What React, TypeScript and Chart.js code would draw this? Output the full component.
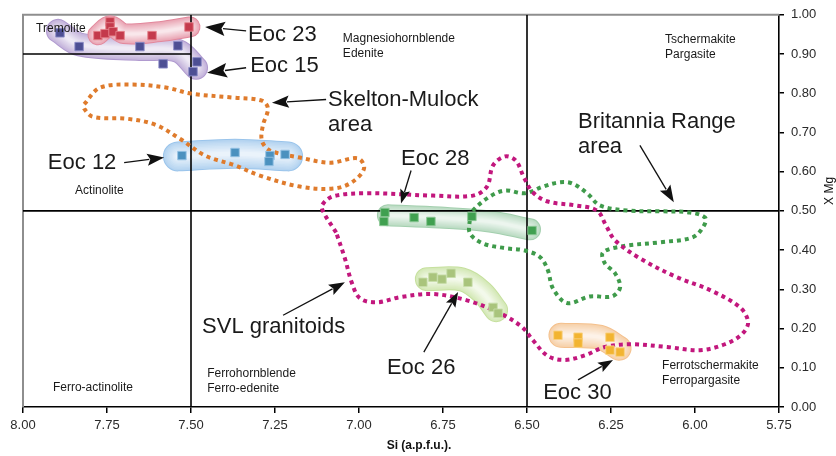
import { useEffect, useRef } from 'react';
import { Chart, registerables } from 'chart.js';

Chart.register(...registerables);

type Pt = { x: number; y: number };
const P = (rows: number[][]): Pt[] => rows.map(([x, y]) => ({ x, y }));

// ---- axes ----
const xTickValues = [8.0, 7.75, 7.5, 7.25, 7.0, 6.75, 6.5, 6.25, 6.0, 5.75];
const yTickValues = [0, 0.1, 0.2, 0.3, 0.4, 0.5, 0.6, 0.7, 0.8, 0.9, 1.0];
const xTitle = 'Si (a.p.f.u.).';
const yTitle = 'X Mg';

// ---- sample analyses (Si, X Mg) ----
const eoc23 = P([[7.741, 0.982], [7.741, 0.969], [7.777, 0.947], [7.756, 0.952], [7.732, 0.957], [7.711, 0.947], [7.616, 0.947], [7.506, 0.969]]);
const eoc15 = P([[7.890, 0.954], [7.833, 0.919], [7.652, 0.919], [7.539, 0.921], [7.583, 0.875], [7.482, 0.880], [7.494, 0.855]]);
const eoc12 = P([[7.527, 0.641], [7.369, 0.649], [7.265, 0.641], [7.268, 0.626], [7.220, 0.644]]);
const eoc28 = P([[6.923, 0.496], [6.926, 0.473], [6.836, 0.483], [6.786, 0.473], [6.664, 0.486], [6.485, 0.450]]);
const eoc26 = P([[6.810, 0.318], [6.780, 0.331], [6.753, 0.326], [6.726, 0.341], [6.676, 0.318], [6.601, 0.254], [6.586, 0.239]]);
const eoc30 = P([[6.408, 0.183], [6.348, 0.178], [6.348, 0.163], [6.253, 0.178], [6.253, 0.145], [6.223, 0.140]]);

// ---- sample envelopes (centre lines of shaded fields) ----
const eoc23Env = P([[7.777, 0.949], [7.741, 0.972], [7.699, 0.952], [7.592, 0.957], [7.503, 0.969]]);
const eoc15Env = P([[7.896, 0.959], [7.830, 0.924], [7.652, 0.913], [7.539, 0.908], [7.485, 0.865]]);
const eoc12Env = P([[7.539, 0.639], [7.369, 0.646], [7.211, 0.639]]);
const eoc28Env = P([[6.914, 0.489], [6.759, 0.483], [6.610, 0.473], [6.491, 0.453]]);
const eoc26Env = P([[6.798, 0.326], [6.693, 0.325], [6.634, 0.293], [6.592, 0.247]]);
const eoc30Env = P([[6.399, 0.183], [6.283, 0.178], [6.226, 0.150]]);

// ---- regional fields (dotted outlines) ----
const skeltonMulock = P([
  [7.818, 0.772], [7.771, 0.814], [7.673, 0.822], [7.571, 0.814], [7.500, 0.799], [7.375, 0.789],
  [7.289, 0.781], [7.271, 0.761], [7.286, 0.718], [7.289, 0.679], [7.265, 0.654], [7.176, 0.636],
  [7.086, 0.623], [7.003, 0.634], [6.985, 0.608], [7.021, 0.573], [7.077, 0.557], [7.176, 0.562],
  [7.295, 0.590], [7.369, 0.616], [7.458, 0.641], [7.533, 0.684], [7.607, 0.720], [7.690, 0.735],
  [7.792, 0.740], [7.818, 0.761], [7.818, 0.772],
]);
const svlGranitoids = P([
  [7.068, 0.445], [7.104, 0.494], [7.110, 0.514], [7.077, 0.537], [6.976, 0.545], [6.780, 0.539],
  [6.661, 0.539], [6.619, 0.562], [6.601, 0.616], [6.565, 0.639], [6.533, 0.628], [6.509, 0.585],
  [6.482, 0.547], [6.438, 0.524], [6.357, 0.514], [6.292, 0.501], [6.265, 0.463], [6.238, 0.425],
  [6.164, 0.379], [6.054, 0.331], [5.955, 0.298], [5.866, 0.254], [5.842, 0.216], [5.860, 0.186],
  [5.911, 0.160], [5.985, 0.145], [6.083, 0.153], [6.193, 0.160], [6.268, 0.153], [6.327, 0.132],
  [6.387, 0.120], [6.438, 0.130], [6.482, 0.170], [6.515, 0.204], [6.580, 0.239], [6.679, 0.272],
  [6.780, 0.288], [6.878, 0.280], [6.946, 0.267], [6.997, 0.277], [7.021, 0.316], [7.042, 0.379],
  [7.068, 0.445],
]);
const britanniaRange = P([
  [6.670, 0.481], [6.661, 0.501], [6.610, 0.537], [6.565, 0.552], [6.506, 0.545], [6.452, 0.562],
  [6.402, 0.573], [6.366, 0.570], [6.321, 0.545], [6.283, 0.514], [6.202, 0.501], [6.104, 0.499],
  [6.015, 0.496], [5.970, 0.483], [5.973, 0.463], [6.006, 0.433], [6.104, 0.420], [6.214, 0.410],
  [6.274, 0.394], [6.268, 0.366], [6.238, 0.341], [6.223, 0.305], [6.247, 0.282], [6.313, 0.282],
  [6.381, 0.265], [6.423, 0.303], [6.438, 0.349], [6.461, 0.382], [6.506, 0.399], [6.565, 0.405],
  [6.631, 0.417], [6.670, 0.443], [6.670, 0.481],
]);

// ---- classification boundaries ----
const boundaries = [
  P([[7.5, 0], [7.5, 1]]),
  P([[6.5, 0], [6.5, 1]]),
  P([[8.0, 0.5], [5.75, 0.5]]),
  P([[8.0, 0.9], [7.5, 0.9]]),
];

// ---- text ----
const fieldLabels = [
  { lines: ['Tremolite'], x: 7.961, y: 0.957 },
  { lines: ['Magnesiohornblende', 'Edenite'], x: 7.048, y: 0.931 },
  { lines: ['Tschermakite', 'Pargasite'], x: 6.089, y: 0.929 },
  { lines: ['Actinolite'], x: 7.845, y: 0.542 },
  { lines: ['Ferro-actinolite'], x: 7.911, y: 0.041 },
  { lines: ['Ferrohornblende', 'Ferro-edenite'], x: 7.452, y: 0.076 },
  { lines: ['Ferrotschermakite', 'Ferropargasite'], x: 6.098, y: 0.097 },
];
const sampleLabels = [
  { lines: ['Eoc 23'], x: 7.330, y: 0.934 },
  { lines: ['Eoc 15'], x: 7.324, y: 0.855 },
  { lines: ['Skelton-Mulock', 'area'], x: 7.092, y: 0.768 },
  { lines: ['Eoc 12'], x: 7.926, y: 0.606 },
  { lines: ['Eoc 28'], x: 6.875, y: 0.618 },
  { lines: ['Britannia Range', 'area'], x: 6.348, y: 0.712 },
  { lines: ['SVL granitoids'], x: 7.467, y: 0.188 },
  { lines: ['Eoc 26'], x: 6.917, y: 0.084 },
  { lines: ['Eoc 30'], x: 6.452, y: 0.020 },
];
const arrows = [
  { from: [7.336, 0.959], to: [7.458, 0.969], head: 20 },
  { from: [7.336, 0.865], to: [7.452, 0.852], head: 20 },
  { from: [7.098, 0.784], to: [7.259, 0.776], head: 17 },
  { from: [7.699, 0.623], to: [7.580, 0.636], head: 17 },
  { from: [6.845, 0.603], to: [6.875, 0.519], head: 14 },
  { from: [6.164, 0.667], to: [6.063, 0.522], head: 17 },
  { from: [7.226, 0.234], to: [7.042, 0.318], head: 16 },
  { from: [6.807, 0.140], to: [6.705, 0.293], head: 15 },
  { from: [6.348, 0.069], to: [6.244, 0.120], head: 15 },
];

const FONT = "'Liberation Sans', Arial, Helvetica, sans-serif";

function tint(rgb: number[], t: number) {
  const c = rgb.map((v) => Math.round(v + (255 - v) * t));
  return `rgb(${c[0]},${c[1]},${c[2]})`;
}

function envelope(data: Pt[], width: number, rgb: number[], order: number) {
  const base = {
    data,
    showLine: true,
    pointRadius: 0,
    pointHoverRadius: 0,
    fill: false,
    tension: 0.35,
    borderCapStyle: 'round',
    borderJoinStyle: 'round',
  };
  const steps = 9;
  const layers: number[][] = [[width, 0.12]];
  for (let i = 0; i < steps; i++) {
    const f = i / (steps - 1);
    layers.push([(width - 2) * (1 - 0.85 * f), 0.36 + 0.46 * f]);
  }
  return layers.map(([w, t], i) => ({
    ...base,
    borderWidth: w,
    borderColor: tint(rgb, t),
    order: order + layers.length - i,
  }));
}

function dotted(data: Pt[], color: string) {
  return {
    data,
    showLine: true,
    pointRadius: 0,
    pointHoverRadius: 0,
    fill: false,
    tension: 0.35,
    borderWidth: 4,
    borderDash: [4, 4],
    borderCapStyle: 'butt',
    borderJoinStyle: 'round',
    borderColor: color,
    order: 40,
  };
}

function samples(data: Pt[], color: string, edge: string) {
  return {
    data,
    showLine: false,
    pointStyle: 'rect',
    pointRadius: 6,
    pointHoverRadius: 6,
    backgroundColor: color,
    borderColor: edge,
    borderWidth: 1,
    order: 10,
  };
}

const overlay = {
  id: 'overlay',
  beforeDatasetsDraw(chart: any) {
    const { ctx, chartArea: a } = chart;
    ctx.save();
    ctx.strokeStyle = '#8e8e8e';
    ctx.lineWidth = 2;
    ctx.beginPath();
    ctx.moveTo(a.left, a.bottom);
    ctx.lineTo(a.left, a.top);
    ctx.lineTo(a.right, a.top);
    ctx.stroke();
    ctx.restore();
  },
  afterDatasetsDraw(chart: any) {
    const { ctx, chartArea: a } = chart;
    const xs = chart.scales.x;
    const ys = chart.scales.y;
    const px = (v: number) => xs.getPixelForValue(v);
    const py = (v: number) => ys.getPixelForValue(v);
    ctx.save();
    // arrows
    ctx.strokeStyle = '#111';
    ctx.fillStyle = '#111';
    ctx.lineWidth = 1.3;
    for (const ar of arrows) {
      const x1 = px(ar.from[0]), y1 = py(ar.from[1]);
      const x2 = px(ar.to[0]), y2 = py(ar.to[1]);
      const ang = Math.atan2(y2 - y1, x2 - x1);
      const hl = ar.head, hw = ar.head * 0.36;
      const bx = x2 - hl * Math.cos(ang), by = y2 - hl * Math.sin(ang);
      ctx.beginPath();
      ctx.moveTo(x1, y1);
      ctx.lineTo(bx + 2 * Math.cos(ang), by + 2 * Math.sin(ang));
      ctx.stroke();
      ctx.beginPath();
      ctx.moveTo(x2, y2);
      ctx.lineTo(bx + hw * Math.sin(ang), by - hw * Math.cos(ang));
      ctx.lineTo(bx + hl * 0.18 * Math.cos(ang), by + hl * 0.18 * Math.sin(ang));
      ctx.lineTo(bx - hw * Math.sin(ang), by + hw * Math.cos(ang));
      ctx.closePath();
      ctx.fill();
    }
    // field names
    ctx.fillStyle = '#1a1a1a';
    ctx.textAlign = 'left';
    ctx.textBaseline = 'alphabetic';
    ctx.font = `12px ${FONT}`;
    for (const l of fieldLabels) {
      l.lines.forEach((t, i) => ctx.fillText(t, px(l.x), py(l.y) + i * 15));
    }
    // sample names
    ctx.font = `22px ${FONT}`;
    for (const l of sampleLabels) {
      l.lines.forEach((t, i) => ctx.fillText(t, px(l.x), py(l.y) + i * 25));
    }
    // axis titles
    ctx.fillStyle = '#111';
    ctx.font = `bold 12px ${FONT}`;
    ctx.textAlign = 'center';
    ctx.fillText(xTitle, (a.left + a.right) / 2 + 18, a.bottom + 42);
    ctx.font = `12px ${FONT}`;
    ctx.translate(a.right + 51, (a.top + a.bottom) / 2 - 20);
    ctx.rotate(-Math.PI / 2);
    ctx.textBaseline = 'middle';
    ctx.fillText(yTitle, 0, 0);
    ctx.restore();
  },
};

export default function App() {
  const ref = useRef<HTMLCanvasElement | null>(null);
  useEffect(() => {
    document.body.style.margin = '0';
    const canvas = ref.current;
    if (!canvas) return;
    const datasets: any[] = [
      ...envelope(eoc15Env, 24, [165, 140, 200], 130),
      ...envelope(eoc23Env, 21, [222, 120, 142], 115),
      ...envelope(eoc12Env, 30, [140, 188, 232], 100),
      ...envelope(eoc28Env, 22, [150, 200, 163], 85),
      ...envelope(eoc26Env, 24, [190, 220, 145], 70),
      ...envelope(eoc30Env, 25, [242, 185, 125], 55),
      ...boundaries.map((b) => ({
        data: b,
        showLine: true,
        pointRadius: 0,
        pointHoverRadius: 0,
        borderWidth: 1.6,
        borderColor: '#000',
        fill: false,
        order: 50,
      })),
      dotted(skeltonMulock, '#df7b2c'),
      dotted(svlGranitoids, '#c2177d'),
      dotted(britanniaRange, '#3f9b4b'),
      samples(eoc23, '#c43a4c', 'rgba(230,130,140,0.9)'),
      samples(eoc15, '#4d4f94', 'rgba(140,140,200,0.9)'),
      samples(eoc12, '#4b91bf', 'rgba(150,195,230,0.9)'),
      samples(eoc28, '#40a050', 'rgba(140,200,150,0.9)'),
      samples(eoc26, '#a9c47c', 'rgba(200,222,170,0.9)'),
      samples(eoc30, '#f2b431', 'rgba(250,210,130,0.9)'),
    ];
    const chart = new Chart(canvas, {
      type: 'scatter',
      data: { datasets },
      plugins: [overlay],
      options: {
        animation: false,
        responsive: false,
        events: [],
        devicePixelRatio: 1,
        layout: { padding: { left: 23, top: 14, right: 0, bottom: 0 } },
        plugins: { legend: { display: false }, tooltip: { enabled: false } },
        scales: {
          x: {
            type: 'linear',
            reverse: true,
            min: 5.75,
            max: 8.0,
            afterBuildTicks: (s: any) => {
              s.ticks = xTickValues.map((v) => ({ value: v }));
            },
            afterFit: (s: any) => {
              s.height = 49;
            },
            ticks: {
              callback: (v: any) => Number(v).toFixed(2),
              font: { family: FONT, size: 13 },
              color: '#2a2a2a',
              padding: 5,
              maxRotation: 0,
              autoSkip: false,
            },
            grid: { drawOnChartArea: false, drawTicks: true, tickLength: 6, color: '#000', lineWidth: 1.5 },
            border: { display: true, color: '#000', width: 1.6 },
          },
          y: {
            type: 'linear',
            position: 'right',
            min: 0,
            max: 1,
            afterBuildTicks: (s: any) => {
              s.ticks = yTickValues.map((v) => ({ value: v }));
            },
            afterFit: (s: any) => {
              s.width = 57;
            },
            ticks: {
              callback: (v: any) => Number(v).toFixed(2),
              font: { family: FONT, size: 13 },
              color: '#2a2a2a',
              padding: 7,
              autoSkip: false,
            },
            grid: { drawOnChartArea: false, drawTicks: true, tickLength: 5, color: '#000', lineWidth: 1.5 },
            border: { display: true, color: '#000', width: 1.6 },
          },
        },
      } as any,
    });
    return () => chart.destroy();
  }, []);
  return (
    <div style={{ width: 836, height: 456 }}>
      <canvas ref={ref} width={836} height={456} style={{ display: 'block', width: 836, height: 456 }} />
    </div>
  );
}
